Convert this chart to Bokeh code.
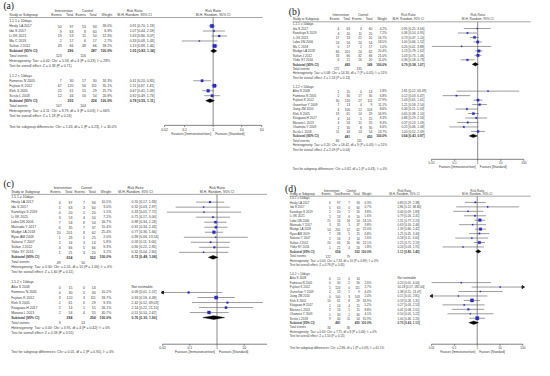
import math
from bokeh.plotting import figure
from bokeh.models import Range1d, LogScale
from bokeh.layouts import column, row
from bokeh.embed import file_html
from bokeh.resources import INLINE
from bokeh.core.properties import value

# ---------------- DATA ----------------
# Panel (a)
a_groups = ["1.1.1 \u2265 10days", "1.1.2 < 10days"]
a1_study = ["Healy LA 2017", "Ida S 2017", "Li XK 2021", "Ma C 2018", "Sultan J 2012"]
a1_ev1 = [50, 9, 19, 2, 43]
a1_n1 = [97, 63, 53, 17, 66]
a1_ev2 = [53, 8, 11, 6, 38]
a1_n2 = [94, 60, 50, 17, 66]
a1_w = [39.0, 6.9, 12.3, 2.7, 39.1]
a1_rr = [0.91, 1.07, 1.63, 0.33, 1.13]
a1_lo = [0.70, 0.44, 0.86, 0.08, 0.88]
a1_hi = [1.19, 2.59, 3.07, 1.43, 1.46]
a1_sub = [1.05, 0.82, 1.34]
a1_het = "Heterogeneity: Tau\u00b2 = 0.02; Chi\u00b2 = 5.58, df = 4 (P = 0.23); I\u00b2 = 28%"
a1_z = "Test for overall effect: Z = 0.38 (P = 0.71)"
a2_study = ["Fameras N 2005", "Fujitani K 2012", "Klek S 2005", "Scislo L 2018"]
a2_ev1 = [7, 67, 21, 12]
a2_n1 = [30, 120, 61, 44]
a2_ev2 = [17, 56, 15, 16]
a2_n2 = [30, 111, 29, 54]
a2_w = [18.3, 35.1, 25.7, 20.9]
a2_rr = [0.41, 1.11, 0.67, 0.92]
a2_lo = [0.20, 0.87, 0.41, 0.49]
a2_hi = [0.85, 1.41, 1.09, 1.73]
a2_sub = [0.78, 0.55, 1.11]
a2_het = "Heterogeneity: Tau\u00b2 = 0.11; Chi\u00b2 = 8.79, df = 3 (P = 0.03); I\u00b2 = 66%"
a2_z = "Test for overall effect: Z = 1.18 (P = 0.24)"
a_diff = "Test for subgroup differences: Chi\u00b2 = 1.43, df = 1 (P = 0.23), I\u00b2 = 30.0%"
a_ticks = [0.02, 0.1, 1, 10, 50]

# Panel (b)
b_groups = ["1.2.1 \u2265 10days", "1.2.2 < 10days"]
b1_study = ["Ida S 2017", "Kanekiyo S 2019", "Li XK 2021", "Lobo DN 2006", "Ma C 2018",
            "Mudge LA 2018", "Sultan J 2012", "Yildiz SY 2016"]
b1_ev1 = [4, 4, 17, 24, 0, 84, 33, 6]
b1_n1 = [63, 20, 53, 54, 17, 201, 66, 21]
b1_ev2 = [4, 11, 22, 24, 2, 24, 32, 16]
b1_n2 = [60, 20, 50, 54, 17, 62, 66, 20]
b1_w = [4.2, 7.2, 16.7, 18.5, 1.0, 20.4, 21.0, 11.0]
b1_rr = [0.95, 0.36, 0.73, 1.00, 0.20, 1.13, 1.03, 0.36]
b1_lo = [0.25, 0.14, 0.47, 0.66, 0.0103, 0.78, 0.73, 0.18]
b1_hi = [3.64, 0.95, 1.14, 1.52, 3.88, 1.62, 1.46, 0.73]
b1_sub = [0.79, 0.58, 1.07]
b1_het = "Heterogeneity: Tau\u00b2 = 0.08; Chi\u00b2 = 14.30, df = 7 (P = 0.05); I\u00b2 = 51%"
b1_z = "Test for overall effect: Z = 1.53 (P = 0.13)"
b2_study = ["Aiko S 2008", "Fameras N 2005", "Fujitani K 2012", "Gunerhan Y 2009", "Jiang ZM 2010",
            "Klek S 2005", "Kitagawa H 2017", "Marano L 2013", "Okamoto Y 2009", "Scislo L 2018"]
b2_ev1 = [1, 2, 30, 7, 4, 19, 4, 4, 2, 11]
b2_n1 = [15, 30, 120, 13, 100, 61, 14, 54, 30, 44]
b2_ev2 = [0, 17, 27, 4, 12, 14, 5, 11, 8, 13]
b2_n2 = [14, 30, 111, 9, 103, 29, 15, 55, 30, 54]
b2_w = [1.8, 6.8, 17.9, 11.1, 8.6, 16.9, 8.3, 8.3, 6.6, 13.7]
b2_rr = [2.81, 0.12, 1.03, 1.21, 0.34, 0.65, 0.86, 0.37, 0.25, 1.04]
b2_lo = [0.12, 0.03, 0.65, 0.58, 0.11, 0.38, 0.29, 0.13, 0.06, 0.52]
b2_hi = [63.49, 0.47, 1.61, 2.54, 1.03, 1.10, 2.56, 1.09, 1.08, 2.09]
b2_sub = [0.64, 0.43, 0.97]
b2_het = "Heterogeneity: Tau\u00b2 = 0.20; Chi\u00b2 = 18.42, df = 9 (P = 0.03); I\u00b2 = 51%"
b2_z = "Test for overall effect: Z = 2.09 (P = 0.04)"
b_diff = "Test for subgroup differences: Chi\u00b2 = 0.62, df = 1 (P = 0.43), I\u00b2 = 0%"
b_ticks = [0.01, 0.1, 1, 10, 100]

# Panel (c)
c_groups = ["1.5.1 \u2265 10days", "1.5.2 < 10days"]
c1_study = ["Healy LA 2017", "Ida S 2017", "Kanekiyo S 2019", "Li XK 2021", "Lobo DN 2006",
            "Matsuda Y 2017", "Mudge LA 2018", "Ryan AM 2009", "Sakurai Y 2007", "Sultan J 2012",
            "Yildiz SY 2016"]
c1_ev1 = [4, 1, 0, 3, 7, 6, 20, 1, 2, 4, 1]
c1_n1 = [97, 63, 20, 53, 54, 35, 201, 28, 16, 66, 21]
c1_ev2 = [7, 3, 1, 4, 8, 7, 8, 1, 3, 5, 3]
c1_n2 = [94, 60, 20, 50, 54, 37, 62, 25, 14, 66, 20]
c1_w = [10.5, 3.0, 1.5, 7.2, 16.7, 15.4, 25.4, 2.0, 5.8, 9.3, 3.2]
c1_rr = [0.55, 0.32, 0.33, 0.71, 0.88, 0.91, 0.77, 0.89, 0.58, 0.80, 0.32]
c1_lo = [0.17, 0.03, 0.0144, 0.17, 0.34, 0.34, 0.36, 0.06, 0.11, 0.22, 0.04]
c1_hi = [1.83, 2.97, 7.72, 3.00, 2.24, 2.43, 1.66, 13.54, 3.00, 2.85, 2.60]
c1_sub = [0.72, 0.48, 1.08]
c1_het = "Heterogeneity: Tau\u00b2 = 0.00; Chi\u00b2 = 2.01, df = 10 (P = 1.00); I\u00b2 = 0%"
c1_z = "Test for overall effect: Z = 1.60 (P = 0.11)"
c2_study = ["Aiko S 2008", "Fameras N 2005", "Fujitani K 2012", "Klek S 2005", "Kitagawa H 2017",
            "Marano L 2013"]
c2_ev1 = [0, 0, 3, 2, 2, 2]
c2_n1 = [15, 30, 120, 61, 14, 54]
c2_ev2 = [0, 5, 3, 0, 1, 4]
c2_n2 = [14, 30, 111, 29, 15, 55]
c2_w = [None, 10.2, 33.7, 9.3, 16.1, 30.7]
c2_rr = [None, 0.09, 0.93, 2.42, 2.14, 0.51]
c2_lo = [None, 0.0053, 0.19, 0.12, 0.22, 0.10]
c2_hi = [None, 1.57, 4.49, 49.03, 21.10, 2.67]
c2_sub = [0.76, 0.30, 1.90]
c2_het = "Heterogeneity: Tau\u00b2 = 0.00; Chi\u00b2 = 3.91, df = 4 (P = 0.42); I\u00b2 = 0%"
c2_z = "Test for overall effect: Z = 0.59 (P = 0.55)"
c_diff = "Test for subgroup differences: Chi\u00b2 = 0.01, df = 1 (P = 0.91), I\u00b2 = 0%"
c_ticks = [0.01, 0.1, 1, 10, 100]

# Panel (d)
d_groups = ["1.6.1 \u2265 10days", "1.6.2 < 10days"]
d1_study = list(c1_study)
d1_ev1 = [6, 1, 2, 5, 21, 3, 54, 7, 2, 20, 1]
d1_n1 = [97, 63, 20, 53, 54, 35, 201, 28, 16, 66, 21]
d1_ev2 = [7, 0, 5, 6, 16, 5, 12, 5, 3, 16, 4]
d1_n2 = [94, 60, 20, 50, 54, 37, 62, 25, 14, 66, 20]
d1_w = [6.3, 0.7, 3.8, 5.6, 24.5, 3.8, 22.0, 6.8, 2.6, 22.1, 1.8]
d1_rr = [0.83, 2.86, 0.40, 0.79, 1.31, 0.63, 1.39, 1.25, 0.58, 1.25, 0.24]
d1_lo = [0.29, 0.12, 0.09, 0.26, 0.77, 0.16, 0.80, 0.45, 0.11, 0.71, 0.03]
d1_hi = [2.38, 68.80, 1.83, 2.41, 2.23, 2.46, 2.42, 3.44, 3.00, 2.19, 1.95]
d1_sub = [1.11, 0.85, 1.45]
d1_het = "Heterogeneity: Tau\u00b2 = 0.00; Chi\u00b2 = 7.33, df = 10 (P = 0.69); I\u00b2 = 0%"
d1_z = "Test for overall effect: Z = 0.78 (P = 0.43)"
d2_study = ["Aiko S 2008", "Fameras N 2005", "Fujitani K 2012", "Gunerhan Y 2009", "Jiang ZM 2010",
            "Klek S 2005", "Kitagawa H 2017", "Marano L 2013", "Okamoto Y 2009", "Scislo L 2018"]
d2_ev1 = [0, 0, 5, 2, 0, 10, 1, 2, 1, 9]
d2_n1 = [15, 30, 120, 13, 100, 61, 14, 54, 30, 44]
d2_ev2 = [0, 2, 0, 1, 3, 8, 4, 5, 2, 11]
d2_n2 = [14, 30, 111, 9, 103, 29, 15, 55, 30, 54]
d2_w = [None, 2.6, 2.7, 4.4, 2.4, 33.9, 5.2, 8.8, 4.1, 35.9]
d2_rr = [None, 0.20, 10.18, 1.38, 0.15, 0.59, 0.27, 0.41, 0.50, 1.00]
d2_lo = [None, 0.0101, 0.57, 0.15, 0.0077, 0.26, 0.03, 0.08, 0.05, 0.46]
d2_hi = [None, 4.00, 182.04, 13.07, 2.81, 1.35, 2.13, 2.01, 5.22, 2.20]
d2_sub = [0.70, 0.43, 1.13]
d2_het = "Heterogeneity: Tau\u00b2 = 0.00; Chi\u00b2 = 7.75, df = 8 (P = 0.46); I\u00b2 = 0%"
d2_z = "Test for overall effect: Z = 1.50 (P = 0.13)"
d_diff = "Test for subgroup differences: Chi\u00b2 = 2.86, df = 1 (P = 0.09), I\u00b2 = 65.1%"
d_ticks = [0.01, 0.1, 1, 10, 100]

fav_left = "Favours [Immunonutrition]"
fav_right = "Favours [Standard]"


def sg(study, ev1, n1, ev2, n2, w, rr, lo, hi, sub, het, z):
    return dict(study=study, ev1=ev1, n1=n1, ev2=ev2, n2=n2, w=w, rr=rr, lo=lo, hi=hi,
                sub=sub, het=het, z=z)


# ---------------- LAYOUT (reference-pixel positions) ----------------
LA = dict(x0=0, x1=275, y0=0, y1=185, w=267, h=177, first=26.7, sp=5.2, fs=3.6,
          lab=(3, 5.5), name=9, ev1=63, n1=75, ev2=88, n2=99, wt=115, ci=133, cih=138,
          flo=169, fhi=269, gh=11, ch=15.3, ul=17.8, ulx=(9, 270),
          axis=130.5, tl=134.5, fav=139.5, diff=132.5)
LB = dict(x0=275, x1=550, y0=0, y1=185, w=267, h=177, first=29.3, sp=4.675, fs=3.3,
          lab=(297, 12), name=301, ev1=349, n1=360, ev2=372, n2=383, wt=398, ci=413, cih=420,
          flo=444, fhi=539, gh=15.2, ch=19.4, ul=22.3, ulx=(301, 546),
          axis=166, tl=169.5, fav=173.5, diff=176)
LC = dict(x0=0, x1=275, y0=185, y1=376, w=267, h=183, first=210.7, sp=5.24, fs=3.6,
          lab=(3, 191), name=11, ev1=62, n1=74, ev2=87, n2=98, wt=114, ci=135, cih=139,
          flo=167, fhi=279, gh=196, ch=200.3, ul=202.6, ulx=(11, 275),
          axis=359, tl=362.5, fav=367, diff=367.5)
LD = dict(x0=275, x1=550, y0=185, y1=376, w=267, h=183, first=211, sp=4.65, fs=3.15,
          lab=(293, 196), name=298, ev1=340, n1=350, ev2=360, n2=370, wt=382, ci=409, cih=416,
          flo=444, fhi=538, gh=199, ch=202.3, ul=204.5, ulx=(298, 546),
          axis=359, tl=362.5, fav=367, diff=362.5)

FONT = "Liberation Sans"
TXT = "#3a3a3a"
BLUE = "#2a2ac4"


def make_panel(L, label, groups, sgs, diff_text, ticks):
    sc = min(L["w"] / (L["x1"] - L["x0"]), L["h"] / (L["y1"] - L["y0"]))
    first, sp = L["first"], L["sp"]

    def R(ypx):
        return (ypx - first) / sp

    p = figure(width=L["w"], height=L["h"], x_range=Range1d(L["x0"], L["x1"]),
               y_range=Range1d(R(L["y1"]), R(L["y0"])), output_backend="svg",
               toolbar_location=None, min_border=0, x_axis_location=None, y_axis_location=None)
    p.grid.visible = False
    p.outline_line_color = None
    tlo, thi = ticks[0], ticks[-1]
    k = (math.log10(thi) - math.log10(tlo)) / (L["fhi"] - L["flo"])
    rs = 10 ** (math.log10(tlo) - (L["flo"] - L["x0"]) * k)
    re_ = 10 ** (math.log10(thi) + (L["x1"] - L["fhi"]) * k)
    p.extra_x_ranges = {"rr": Range1d(rs, re_)}
    p.extra_x_scales = {"rr": LogScale()}
    fs = value(f"{L['fs'] * sc:.2f}px")

    T = {}

    def put(x, y, t, align="left", bold=False):
        d = T.setdefault((align, bold), dict(x=[], y=[], t=[]))
        d["x"].append(x)
        d["y"].append(y)
        d["t"].append(t)

    gh, ch, ul = R(L["gh"]), R(L["ch"]), R(L["ul"])
    put((L["ev1"] + L["n1"]) / 2 - 4, gh, "Intervention", "center")
    put((L["ev2"] + L["n2"]) / 2 - 4, gh, "Control", "center")
    put(L["cih"], gh, "Risk Ratio", "center")
    put(L["name"], ch, "Study or Subgroup")
    put(L["ev1"], ch, "Events", "right")
    put(L["n1"], ch, "Total", "right")
    put(L["ev2"], ch, "Events", "right")
    put(L["n2"], ch, "Total", "right")
    put(L["wt"], ch, "Weight", "right")
    put(L["cih"], ch, "M-H, Random, 95% CI", "center")

    seg = dict(x0=[], x1=[], y=[])
    sq = dict(x=[], y=[], s=[])
    arrL = dict(x=[], y=[])
    arrR = dict(x=[], y=[])
    dia = dict(xs=[], ys=[])

    r = -1
    for gname, g in zip(groups, sgs):
        put(L["name"], r, gname)
        r += 1
        for i, st in enumerate(g["study"]):
            put(L["name"], r, st)
            put(L["ev1"], r, str(g["ev1"][i]), "right")
            put(L["n1"], r, str(g["n1"][i]), "right")
            put(L["ev2"], r, str(g["ev2"][i]), "right")
            put(L["n2"], r, str(g["n2"][i]), "right")
            if g["w"][i] is None:
                put(L["ci"], r, "Not estimable")
            else:
                rr, lo, hi = g["rr"][i], g["lo"][i], g["hi"][i]
                put(L["wt"], r, f"{g['w'][i]:.1f}%", "right")
                put(L["ci"], r, f"{rr:.2f} [{lo:.2f}, {hi:.2f}]")
                seg["x0"].append(max(lo, tlo))
                seg["x1"].append(min(hi, thi))
                seg["y"].append(r)
                if lo < tlo:
                    arrL["x"].append(tlo)
                    arrL["y"].append(r)
                if hi > thi:
                    arrR["x"].append(thi)
                    arrR["y"].append(r)
                sq["x"].append(rr)
                sq["y"].append(r)
                sq["s"].append(max(1.2, 0.58 * math.sqrt(g["w"][i])) * sc)
            r += 1
        s_rr, s_lo, s_hi = g["sub"]
        put(L["name"], r, "Subtotal (95% CI)", bold=True)
        put(L["n1"], r, str(sum(g["n1"])), "right", True)
        put(L["n2"], r, str(sum(g["n2"])), "right", True)
        put(L["wt"], r, "100.0%", "right", True)
        put(L["ci"], r, f"{s_rr:.2f} [{s_lo:.2f}, {s_hi:.2f}]", bold=True)
        dia["xs"].append([s_lo, s_rr, s_hi, s_rr])
        dia["ys"].append([r, r - 0.38, r, r + 0.38])
        r += 1
        put(L["name"], r, "Total events")
        put(L["ev1"], r, str(sum(g["ev1"])), "right")
        put(L["ev2"], r, str(sum(g["ev2"])), "right")
        r += 1
        put(L["name"], r, g["het"])
        r += 1
        put(L["name"], r, g["z"])
        r += 1
        r += 1

    put(L["name"], R(L["diff"]), diff_text)

    # header underline
    p.segment(x0=[L["ulx"][0]], x1=[L["ulx"][1]], y0=[ul], y1=[ul], line_color="#6a6a6a",
              line_width=0.6)
    # panel label
    p.text(x=[L["lab"][0]], y=[R(L["lab"][1])], text=[label], text_font=value("Liberation Serif"),
           text_font_size=value(f"{10 * sc:.1f}px"), text_baseline="middle", text_align="left",
           text_color="#111111")

    for (align, bold), d in T.items():
        p.text(x=d["x"], y=d["y"], text=d["t"], text_font=value(FONT), text_font_size=fs,
               text_align=align, text_baseline="middle", text_color=TXT,
               text_font_style="bold" if bold else "normal")

    # forest part
    ax = R(L["axis"])
    p.segment(x0=[1], x1=[1], y0=[ul], y1=[ax], line_color="#8a8a8a", line_width=1.0,
              x_range_name="rr")
    p.segment(x0="x0", x1="x1", y0="y", y1="y", source=dict(x0=seg["x0"], x1=seg["x1"],
              y=seg["y"]), line_color="#5a5a5a", line_width=0.6, x_range_name="rr")
    p.scatter(x="x", y="y", size="s", source=sq, marker="square", fill_color=BLUE,
              line_color=BLUE, line_width=0.3, x_range_name="rr")
    if arrL["x"]:
        p.scatter(x=arrL["x"], y=arrL["y"], marker="triangle", angle=math.pi / 2, size=3 * sc,
                  fill_color="#222222", line_color="#222222", x_range_name="rr")
    if arrR["x"]:
        p.scatter(x=arrR["x"], y=arrR["y"], marker="triangle", angle=-math.pi / 2, size=3 * sc,
                  fill_color="#222222", line_color="#222222", x_range_name="rr")
    p.patches(xs=dia["xs"], ys=dia["ys"], fill_color="black", line_color="black",
              line_width=0.4, x_range_name="rr")
    # axis
    p.segment(x0=[tlo], x1=[thi], y0=[ax], y1=[ax], line_color="#4a4a4a", line_width=0.7,
              x_range_name="rr")
    tk = 1.6 / sp
    p.segment(x0=ticks, x1=ticks, y0=[ax] * len(ticks), y1=[ax + tk] * len(ticks),
              line_color="#4a4a4a", line_width=0.7, x_range_name="rr")
    p.text(x=ticks, y=[R(L["tl"])] * len(ticks), text=[f"{t:g}" for t in ticks],
           text_font=value(FONT), text_font_size=fs, text_align="center",
           text_baseline="middle", text_color=TXT, x_range_name="rr")
    center = math.sqrt(tlo * thi)
    p.text(x=[center, center], y=[gh, ch], text=["Risk Ratio", "M-H, Random, 95% CI"],
           text_font=value(FONT), text_font_size=fs, text_align="center",
           text_baseline="middle", text_color=TXT, x_range_name="rr")
    p.text(x=[1], y=[R(L["fav"])], text=[fav_left], text_font=value(FONT), text_font_size=fs,
           text_align="right", text_baseline="middle", text_color=TXT, x_offset=-2,
           x_range_name="rr")
    p.text(x=[1], y=[R(L["fav"])], text=[fav_right], text_font=value(FONT), text_font_size=fs,
           text_align="left", text_baseline="middle", text_color=TXT, x_offset=2,
           x_range_name="rr")
    return p


pa = make_panel(LA, "(a)", a_groups,
                [sg(a1_study, a1_ev1, a1_n1, a1_ev2, a1_n2, a1_w, a1_rr, a1_lo, a1_hi, a1_sub, a1_het, a1_z),
                 sg(a2_study, a2_ev1, a2_n1, a2_ev2, a2_n2, a2_w, a2_rr, a2_lo, a2_hi, a2_sub, a2_het, a2_z)],
                a_diff, a_ticks)
pb = make_panel(LB, "(b)", b_groups,
                [sg(b1_study, b1_ev1, b1_n1, b1_ev2, b1_n2, b1_w, b1_rr, b1_lo, b1_hi, b1_sub, b1_het, b1_z),
                 sg(b2_study, b2_ev1, b2_n1, b2_ev2, b2_n2, b2_w, b2_rr, b2_lo, b2_hi, b2_sub, b2_het, b2_z)],
                b_diff, b_ticks)
pc = make_panel(LC, "(c)", c_groups,
                [sg(c1_study, c1_ev1, c1_n1, c1_ev2, c1_n2, c1_w, c1_rr, c1_lo, c1_hi, c1_sub, c1_het, c1_z),
                 sg(c2_study, c2_ev1, c2_n1, c2_ev2, c2_n2, c2_w, c2_rr, c2_lo, c2_hi, c2_sub, c2_het, c2_z)],
                c_diff, c_ticks)
pd_ = make_panel(LD, "(d)", d_groups,
                 [sg(d1_study, d1_ev1, d1_n1, d1_ev2, d1_n2, d1_w, d1_rr, d1_lo, d1_hi, d1_sub, d1_het, d1_z),
                  sg(d2_study, d2_ev1, d2_n1, d2_ev2, d2_n2, d2_w, d2_rr, d2_lo, d2_hi, d2_sub, d2_het, d2_z)],
                 d_diff, d_ticks)

layout = column(row(pa, pb, spacing=0), row(pc, pd_, spacing=0), spacing=0)
open("out.html", "w").write(file_html(layout, INLINE, "Forest plots"))
